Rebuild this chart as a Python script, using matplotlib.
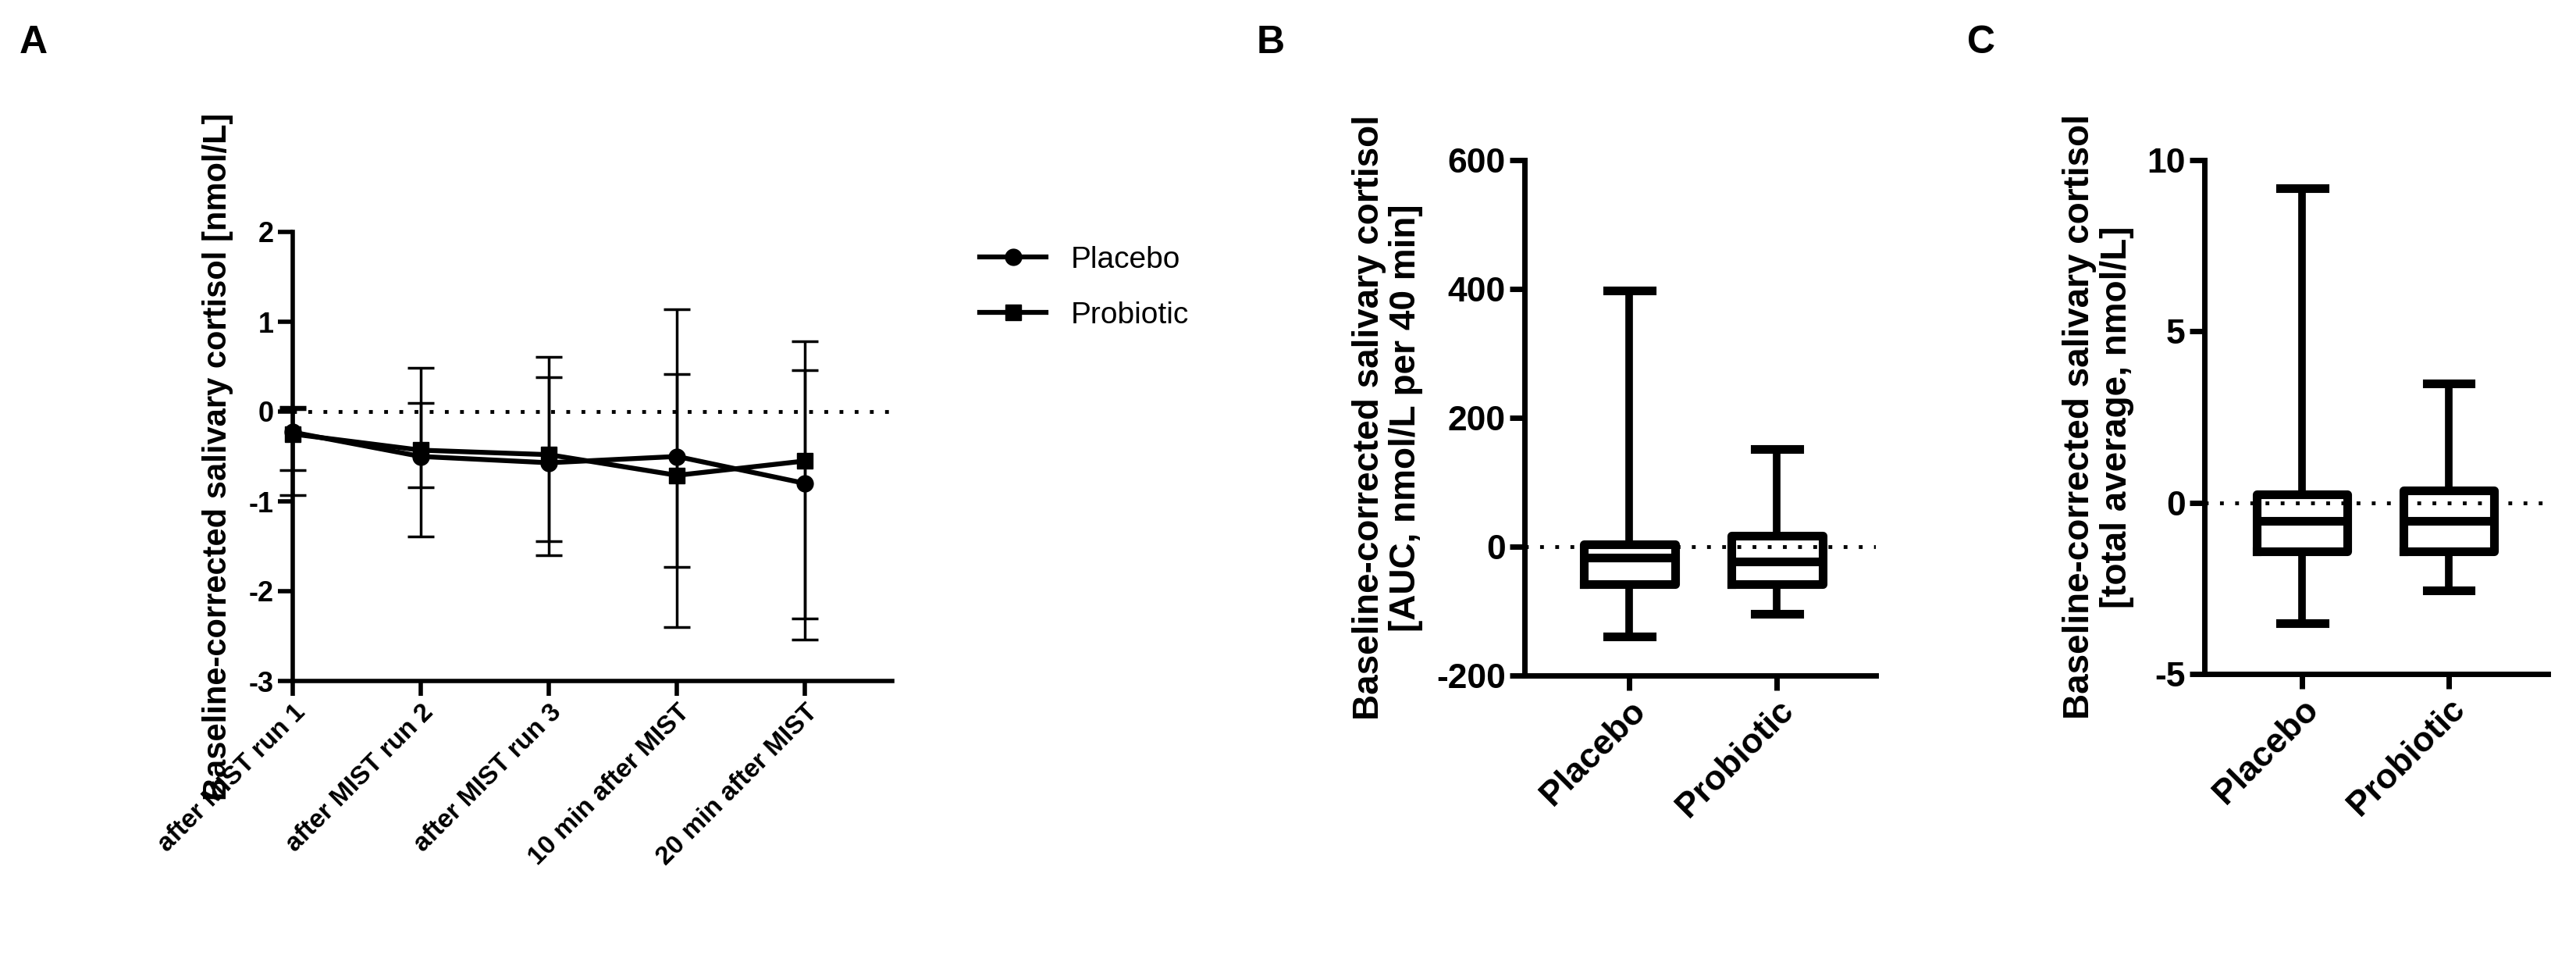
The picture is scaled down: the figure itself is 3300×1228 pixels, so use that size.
import matplotlib
matplotlib.use("Agg")
import matplotlib.pyplot as plt
from matplotlib.lines import Line2D
import numpy as np

plt.rcParams['font.family'] = ['Liberation Sans', 'DejaVu Sans']
plt.rcParams['font.weight'] = 'bold'
plt.rcParams['axes.labelweight'] = 'bold'
plt.rcParams['axes.unicode_minus'] = False

timepoints = ["after MIST run 1", "after MIST run 2", "after MIST run 3", "10 min after MIST", "20 min after MIST"]
placebo_mean = [-0.23, -0.50, -0.57, -0.50, -0.80]
placebo_upper = [0.05, 0.49, 0.61, 1.14, 0.78]
placebo_lower = [-0.93, -1.39, -1.60, -2.40, -2.54]
probiotic_mean = [-0.25, -0.43, -0.48, -0.71, -0.55]
probiotic_upper = [0.03, 0.10, 0.38, 0.42, 0.46]
probiotic_lower = [-0.65, -0.84, -1.44, -1.73, -2.30]

groups = ["Placebo", "Probiotic"]
# min, q1, median, q3, max
auc_stats = [[-139, -58, -17, 4, 397], [-104, -58, -23, 17, 151]]
avg_stats = [[-3.51, -1.41, -0.54, 0.25, 9.18], [-2.55, -1.41, -0.54, 0.35, 3.48]]

W, H = 3300, 1228
fig = plt.figure(figsize=(33, 12.28), dpi=100)

def ax_px(x0, y0, x1, y1):
    return fig.add_axes([x0 / W, 1 - y1 / H, (x1 - x0) / W, (y1 - y0) / H])

def style(ax, lw):
    for s in ['top', 'right']:
        ax.spines[s].set_visible(False)
    for s in ['left', 'bottom']:
        ax.spines[s].set_linewidth(lw)
    ax.tick_params(width=lw, length=14)

# Panel A
axA = ax_px(375, 297, 1143, 872)
x = np.arange(len(timepoints))
pm = np.array(placebo_mean); qm = np.array(probiotic_mean)
axA.errorbar(x, pm, yerr=[pm - np.array(placebo_lower), np.array(placebo_upper) - pm],
             color='black', marker='o', ms=15, lw=4.5, elinewidth=2.5, capsize=12, capthick=2.5,
             clip_on=False, zorder=3)
axA.errorbar(x, qm, yerr=[qm - np.array(probiotic_lower), np.array(probiotic_upper) - qm],
             color='black', marker='s', ms=15, lw=4.5, elinewidth=2.5, capsize=12, capthick=2.5,
             clip_on=False, zorder=3)
axA.axhline(0, color='black', ls=(0, (1, 3)), lw=3.5)
axA.set_xlim(0, 4.68)
axA.set_ylim(-3, 2)
axA.set_yticks([2, 1, 0, -1, -2, -3])
axA.set_xticks(x)
axA.set_xticklabels(timepoints, rotation=45, ha='right', rotation_mode='anchor', fontsize=24)
axA.tick_params(axis='y', labelsize=26)
axA.set_ylabel("Baseline-corrected salivary cortisol [nmol/L]", fontsize=30, fontweight='bold', labelpad=14)
style(axA, 4)
handles = [Line2D([], [], color='black', marker='o', ms=15, lw=4.5),
           Line2D([], [], color='black', marker='s', ms=15, lw=4.5)]
axA.legend(handles, ["Placebo", "Probiotic"], loc='upper left', bbox_to_anchor=(1.1, 1.03), frameon=False,
           prop={'size': 28, 'weight': 'normal'}, handlelength=2.2, labelspacing=0.9)

def boxpanel(ax, stats, ylim, yticks, ylabel):
    for i, (mn, q1, md, q3, mx) in enumerate(stats):
        pos = i + 1
        bxp = dict(med=md, q1=q1, q3=q3, whislo=mn, whishi=mx, fliers=[])
        ax.bxp([bxp], positions=[pos], widths=0.62, showfliers=False,
               boxprops=dict(lw=8), medianprops=dict(color='black', lw=8),
               whiskerprops=dict(lw=7), capprops=dict(lw=8), capwidths=0.3)
    ax.axhline(0, color='black', ls=(0, (1, 3)), lw=3.5, zorder=0)
    ax.set_ylim(*ylim)
    ax.set_yticks(yticks)
    ax.set_xticks([1, 2])
    ax.set_xticklabels(groups, rotation=45, ha='right', rotation_mode='anchor', fontsize=32)
    ax.tick_params(axis='y', labelsize=32)
    ax.set_ylabel(ylabel, fontsize=33, fontweight='bold', linespacing=1.1, labelpad=12)
    style(ax, 5)

axB = ax_px(1953, 205, 2403, 865)
boxpanel(axB, auc_stats, (-200, 600), [-200, 0, 200, 400, 600],
         "Baseline-corrected salivary cortisol\n[AUC, nmol/L per 40 min]")
axB.set_xlim(0.29, 2.67)

axC = ax_px(2824, 205, 3264, 863)
boxpanel(axC, avg_stats, (-5, 10), [-5, 0, 5, 10],
         "Baseline-corrected salivary cortisol\n[total average, nmol/L]")
axC.set_xlim(0.33, 2.68)

for lbl, px in [("A", 25), ("B", 1610), ("C", 2520)]:
    fig.text(px / W, 1 - 55 / H, lbl, fontsize=36, fontweight='bold', va='center')

fig.savefig("out.png", dpi=100)
